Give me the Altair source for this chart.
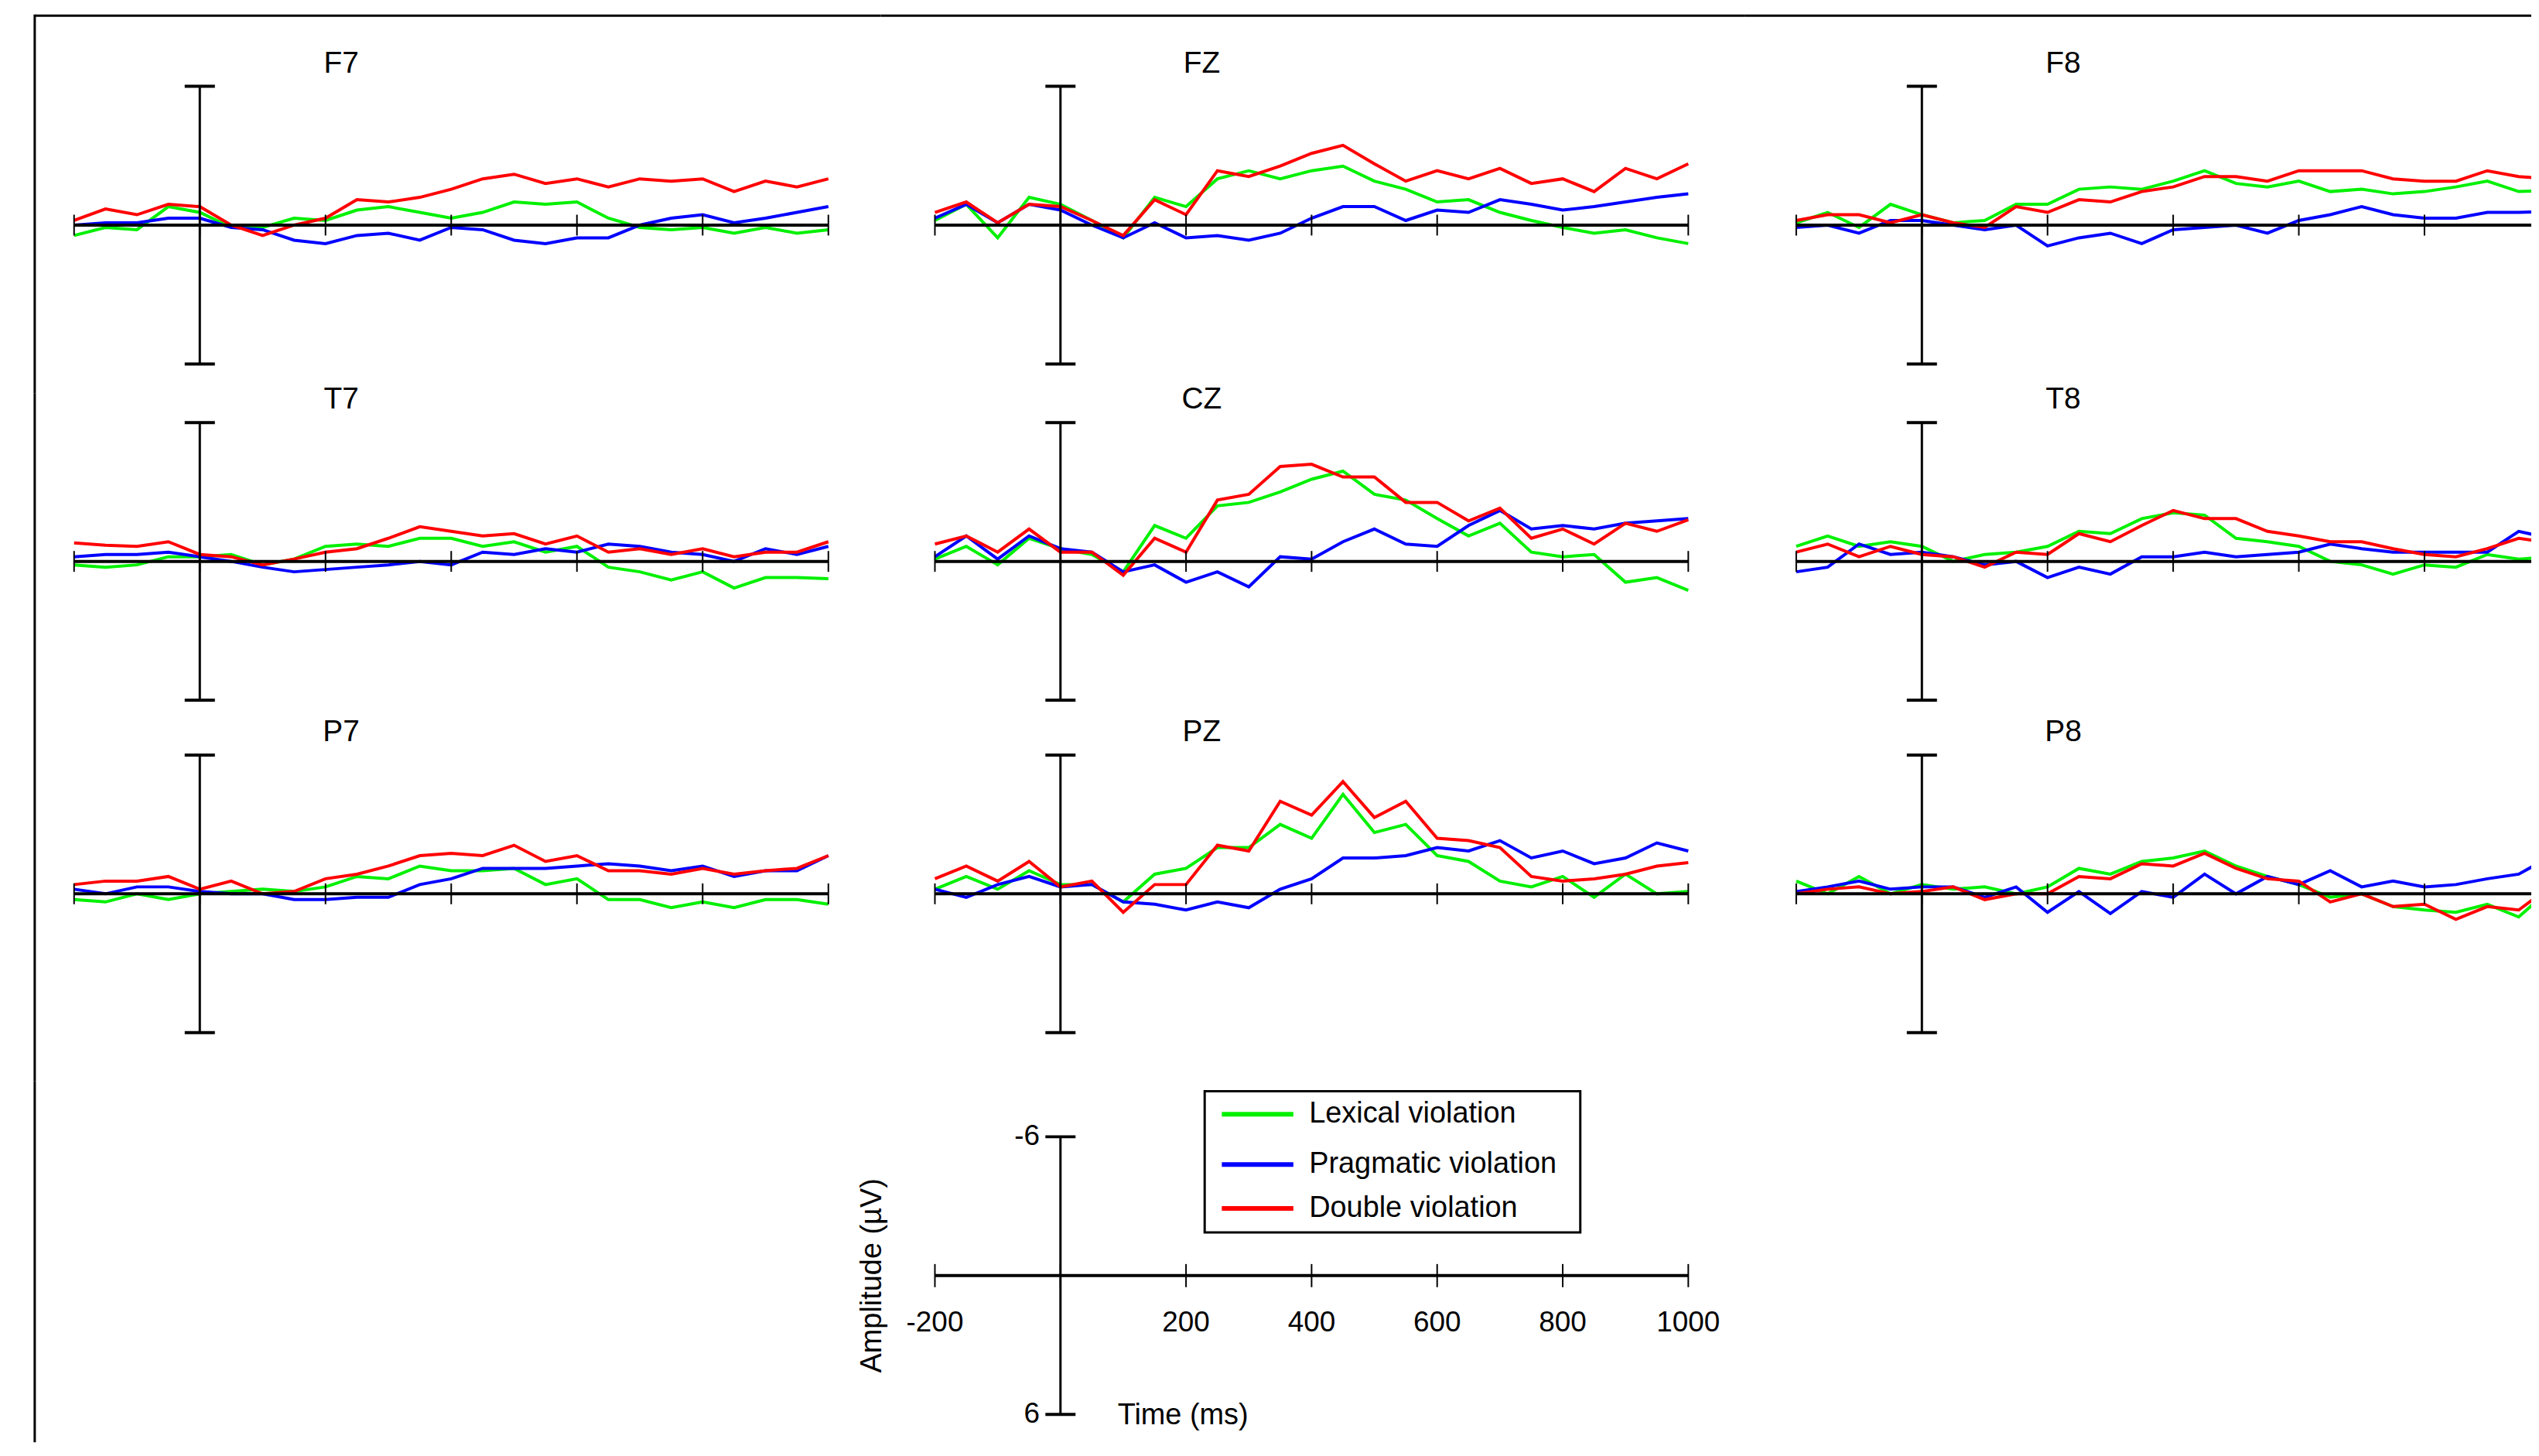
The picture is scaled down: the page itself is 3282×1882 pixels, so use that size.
import altair as alt
import pandas as pd

# time axis (ms), sampled every 50 ms
TIMES = list(range(-200, 1001, 50))
TICKS = [-200, 0, 200, 400, 600, 800, 1000]
TICK_LABELS = ["-200", "200", "400", "600", "800", "1000"]
TICK_LABEL_POS = [-200, 200, 400, 600, 800, 1000]

CONDITIONS = ["Lexical violation", "Pragmatic violation", "Double violation"]
COLORS = ["#00f000", "#0000ff", "#ff0000"]

# amplitudes in microvolts (negative plotted upwards)
F7_LEX = [0.45, 0.1, 0.2, -0.8, -0.55, 0.1, 0.1, -0.3, -0.2, -0.65, -0.8, -0.55, -0.3, -0.55, -1, -0.9, -1, -0.3, 0.1, 0.2, 0.1, 0.35, 0.1, 0.35, 0.2]
F7_PRA = [0, -0.1, -0.1, -0.3, -0.3, 0.1, 0.2, 0.65, 0.8, 0.45, 0.35, 0.65, 0.1, 0.2, 0.65, 0.8, 0.55, 0.55, 0, -0.3, -0.45, -0.1, -0.3, -0.55, -0.8]
F7_DBL = [-0.2, -0.7, -0.45, -0.9, -0.8, 0, 0.45, 0, -0.3, -1.1, -1, -1.2, -1.55, -2, -2.2, -1.8, -2, -1.65, -2, -1.9, -2, -1.45, -1.9, -1.65, -2]
FZ_LEX = [-0.2, -0.9, 0.55, -1.2, -0.9, -0.2, 0.55, -1.2, -0.8, -2, -2.35, -2, -2.35, -2.55, -1.9, -1.55, -1, -1.1, -0.55, -0.2, 0.1, 0.35, 0.2, 0.55, 0.8]
FZ_PRA = [-0.3, -0.9, -0.1, -0.9, -0.65, 0, 0.55, -0.1, 0.55, 0.45, 0.65, 0.35, -0.3, -0.8, -0.8, -0.2, -0.65, -0.55, -1.1, -0.9, -0.65, -0.8, -1, -1.2, -1.35]
FZ_DBL = [-0.55, -1, -0.1, -0.9, -0.8, -0.2, 0.45, -1.1, -0.45, -2.35, -2.1, -2.55, -3.1, -3.45, -2.65, -1.9, -2.35, -2, -2.45, -1.8, -2, -1.45, -2.45, -2, -2.65]
F8_LEX = [-0.1, -0.55, 0.1, -0.9, -0.45, -0.1, -0.2, -0.9, -0.9, -1.55, -1.65, -1.55, -1.9, -2.35, -1.8, -1.65, -1.9, -1.45, -1.55, -1.35, -1.45, -1.65, -1.9, -1.45, -1.5]
F8_PRA = [0.1, 0, 0.35, -0.2, -0.2, 0, 0.2, 0, 0.9, 0.55, 0.35, 0.8, 0.2, 0.1, 0, 0.35, -0.2, -0.45, -0.8, -0.45, -0.3, -0.3, -0.55, -0.55, -0.6]
F8_DBL = [-0.2, -0.45, -0.45, -0.1, -0.45, -0.1, 0.1, -0.8, -0.55, -1.1, -1, -1.45, -1.65, -2.1, -2.1, -1.9, -2.35, -2.35, -2.35, -2, -1.9, -1.9, -2.35, -2.1, -2.0]
T7_LEX = [0.15, 0.25, 0.15, -0.2, -0.2, -0.3, 0.15, -0.1, -0.65, -0.75, -0.65, -1, -1, -0.65, -0.85, -0.4, -0.65, 0.25, 0.45, 0.8, 0.45, 1.15, 0.7, 0.7, 0.75]
T7_PRA = [-0.2, -0.3, -0.3, -0.4, -0.2, 0, 0.25, 0.45, 0.35, 0.25, 0.15, 0, 0.15, -0.4, -0.3, -0.55, -0.4, -0.75, -0.65, -0.4, -0.3, 0, -0.55, -0.3, -0.65]
T7_DBL = [-0.8, -0.7, -0.65, -0.85, -0.3, -0.2, 0.15, -0.1, -0.4, -0.55, -1, -1.5, -1.3, -1.1, -1.2, -0.75, -1.1, -0.4, -0.55, -0.3, -0.55, -0.2, -0.4, -0.4, -0.85]
CZ_LEX = [-0.1, -0.65, 0.15, -1, -0.55, -0.3, 0.45, -1.55, -1, -2.4, -2.55, -3, -3.55, -3.9, -2.9, -2.65, -1.85, -1.1, -1.65, -0.4, -0.2, -0.3, 0.9, 0.7, 1.25]
CZ_PRA = [-0.2, -1.1, -0.1, -1.1, -0.55, -0.4, 0.45, 0.15, 0.9, 0.45, 1.1, -0.2, -0.1, -0.85, -1.4, -0.75, -0.65, -1.55, -2.2, -1.4, -1.55, -1.4, -1.65, -1.75, -1.85]
CZ_DBL = [-0.75, -1.1, -0.4, -1.4, -0.4, -0.4, 0.6, -1, -0.4, -2.65, -2.9, -4.1, -4.2, -3.65, -3.65, -2.55, -2.55, -1.75, -2.3, -1, -1.4, -0.75, -1.65, -1.3, -1.8]
T8_LEX = [-0.65, -1.1, -0.65, -0.85, -0.65, 0, -0.3, -0.4, -0.65, -1.3, -1.2, -1.85, -2.1, -2, -1, -0.85, -0.65, 0, 0.15, 0.55, 0.15, 0.25, -0.3, -0.1, -0.2]
T8_PRA = [0.45, 0.25, -0.75, -0.3, -0.4, -0.2, 0.15, 0, 0.7, 0.25, 0.55, -0.2, -0.2, -0.4, -0.2, -0.3, -0.4, -0.75, -0.55, -0.4, -0.4, -0.4, -0.4, -1.3, -1.0]
T8_DBL = [-0.4, -0.75, -0.2, -0.65, -0.3, -0.2, 0.25, -0.4, -0.3, -1.2, -0.85, -1.55, -2.2, -1.85, -1.85, -1.3, -1.1, -0.85, -0.85, -0.55, -0.3, -0.2, -0.55, -1, -0.8]
P7_LEX = [0.25, 0.35, 0, 0.25, 0, -0.1, -0.2, -0.1, -0.3, -0.75, -0.65, -1.2, -1, -1, -1.1, -0.4, -0.65, 0.25, 0.25, 0.6, 0.35, 0.6, 0.25, 0.25, 0.45]
P7_PRA = [-0.2, 0, -0.3, -0.3, -0.1, 0, 0, 0.25, 0.25, 0.15, 0.15, -0.4, -0.65, -1.1, -1.1, -1.1, -1.2, -1.3, -1.2, -1, -1.2, -0.75, -1, -1, -1.65]
P7_DBL = [-0.4, -0.55, -0.55, -0.75, -0.2, -0.55, 0, -0.1, -0.65, -0.85, -1.2, -1.65, -1.75, -1.65, -2.1, -1.4, -1.65, -1, -1, -0.85, -1.1, -0.85, -1, -1.1, -1.65]
PZ_LEX = [-0.2, -0.75, -0.2, -1, -0.4, -0.4, 0.35, -0.85, -1.1, -2, -2, -3, -2.4, -4.3, -2.65, -3, -1.65, -1.4, -0.55, -0.3, -0.75, 0.15, -0.85, 0, -0.1]
PZ_PRA = [-0.2, 0.15, -0.4, -0.75, -0.3, -0.4, 0.35, 0.45, 0.7, 0.35, 0.6, -0.2, -0.65, -1.55, -1.55, -1.65, -2, -1.85, -2.3, -1.55, -1.85, -1.3, -1.55, -2.2, -1.85]
PZ_DBL = [-0.65, -1.2, -0.55, -1.4, -0.3, -0.55, 0.8, -0.4, -0.4, -2.1, -1.85, -4, -3.4, -4.85, -3.3, -4, -2.4, -2.3, -2, -0.75, -0.55, -0.65, -0.85, -1.2, -1.35]
P8_LEX = [-0.55, 0, -0.75, 0, -0.4, -0.2, -0.3, 0, -0.3, -1.1, -0.85, -1.4, -1.55, -1.85, -1.2, -0.75, -0.4, 0.15, 0, 0.55, 0.7, 0.8, 0.45, 1, -0.2]
P8_PRA = [-0.1, -0.3, -0.55, -0.2, -0.3, -0.3, 0.15, -0.3, 0.8, -0.1, 0.85, -0.1, 0.15, -0.85, 0, -0.75, -0.4, -1, -0.3, -0.55, -0.3, -0.4, -0.65, -0.85, -1.6]
P8_DBL = [0, -0.2, -0.3, 0, -0.1, -0.3, 0.25, 0, 0, -0.75, -0.65, -1.3, -1.2, -1.75, -1.1, -0.65, -0.55, 0.35, 0, 0.55, 0.45, 1.1, 0.55, 0.7, -0.3]

CHANNELS = {
    "F7": (F7_LEX, F7_PRA, F7_DBL), "FZ": (FZ_LEX, FZ_PRA, FZ_DBL), "F8": (F8_LEX, F8_PRA, F8_DBL),
    "T7": (T7_LEX, T7_PRA, T7_DBL), "CZ": (CZ_LEX, CZ_PRA, CZ_DBL), "T8": (T8_LEX, T8_PRA, T8_DBL),
    "P7": (P7_LEX, P7_PRA, P7_DBL), "PZ": (PZ_LEX, PZ_PRA, PZ_DBL), "P8": (P8_LEX, P8_PRA, P8_DBL),
}
GRID = [["F7", "FZ", "F8"], ["T7", "CZ", "T8"], ["P7", "PZ", "P8"]]

# layout: x domain and width per column, y domain per row (30 px per microvolt)
COL_X = [(-262.6, 1083.4, 1097), (-286.2, 1089.7, 1120), (-282.2, 970.0, 1020)]
ROW_Y = [(-9.1, 7.267), (-7.267, 7.2), (-7.167, 8.1)]
KEY_Y = (-8.4, 7.2)
PX_PER_UV = 30
FONT = "Liberation Sans Narrow, Liberation Sans, Arial"
ONE = pd.DataFrame({"a": [0]})


def rule(xs, ys, x, y, x2=None, y2=None, width=3, clip=False, opacity=1):
    enc = {"x": alt.datum(x, scale=xs, axis=None), "y": alt.datum(y, scale=ys, axis=None)}
    if x2 is not None:
        enc["x2"] = alt.datum(x2)
    if y2 is not None:
        enc["y2"] = alt.datum(y2)
    return alt.Chart(ONE).mark_rule(
        strokeWidth=width, color="black", clip=clip, opacity=opacity).encode(**enc)


def text(xs, ys, x, y, s, size=38, align="center", font=FONT, angle=0):
    return alt.Chart(pd.DataFrame({"s": [s]})).mark_text(
        fontSize=size, font=font, align=align, baseline="middle", angle=angle).encode(
        x=alt.datum(x, scale=xs, axis=None), y=alt.datum(y, scale=ys, axis=None), text="s:N")


def axes(xs, ys, tick_half, clip=False):
    layers = [rule(xs, ys, -200, 0, x2=1000, width=4, clip=clip)]
    for t in TICKS:
        layers.append(rule(xs, ys, t, -tick_half, y2=tick_half, width=2, clip=clip))
    layers.append(rule(xs, ys, 0, -6, y2=6, width=3))
    layers.append(rule(xs, ys, -24, -6, x2=24, width=4))
    layers.append(rule(xs, ys, -24, 6, x2=24, width=4))
    return layers


def scales(col, ydom):
    x0, x1, w = COL_X[col]
    xs = alt.Scale(domain=[x0, x1], nice=False, zero=False)
    ys = alt.Scale(domain=list(ydom), nice=False, zero=False, reverse=True)
    return xs, ys, w, round((ydom[1] - ydom[0]) * PX_PER_UV)


def panel(ch, col, row):
    xs, ys, w, h = scales(col, ROW_Y[row])
    x0, x1 = COL_X[col][:2]
    y0, y1 = ROW_Y[row]
    clip = col == 2

    layers = []
    for vals, color in zip(CHANNELS[ch], COLORS):
        df = pd.DataFrame({"t": TIMES, "v": vals})
        layers.append(
            alt.Chart(df).mark_line(strokeWidth=4, color=color, clip=clip).encode(
                x=alt.X("t:Q", scale=xs, axis=None),
                y=alt.Y("v:Q", scale=ys, axis=None),
            )
        )
    layers += axes(xs, ys, 0.45, clip)
    layers.append(text(xs, ys, 225, -7.0, ch, size=39))
    if col == 0:
        layers.append(rule(xs, ys, x0, y0, y2=y1, width=3))
    if row == 0:
        layers.append(rule(xs, ys, x0, y0 + 0.05, x2=x1, width=3))
    return alt.layer(*layers).properties(width=w, height=h)


def key_left():
    xs, ys, w, h = scales(0, KEY_Y)
    return alt.layer(
        rule(xs, ys, COL_X[0][0], KEY_Y[0], y2=KEY_Y[1], width=3),
        text(xs, ys, 1071, 0, "Amplitude (µV)", size=38, font="Liberation Sans, Arial", angle=270),
    ).properties(width=w, height=h)


def key_mid():
    xs, ys, w, h = scales(1, KEY_Y)
    layers = axes(xs, ys, 0.5)
    tick_df = pd.DataFrame({"t": TICK_LABEL_POS, "s": TICK_LABELS, "y": [2.05] * len(TICK_LABELS)})
    layers.append(alt.Chart(tick_df).mark_text(fontSize=37, font=FONT, baseline="middle").encode(
        x=alt.X("t:Q", scale=xs, axis=None), y=alt.Y("y:Q", scale=ys, axis=None), text="s:N"))
    layers.append(text(xs, ys, -33, -6, "-6", size=37, align="right"))
    layers.append(text(xs, ys, -33, 6, "6", size=37, align="right"))
    layers.append(text(xs, ys, 91, 6.05, "Time (ms)", size=38, align="left"))

    # legend box
    layers.append(alt.Chart(ONE).mark_rect(fill="white", stroke="black", strokeWidth=3).encode(
        x=alt.datum(229.7, scale=xs, axis=None), x2=alt.datum(828),
        y=alt.datum(-7.97, scale=ys, axis=None), y2=alt.datum(-1.87)))
    leg_df = pd.DataFrame({"cond": CONDITIONS, "y": [-6.97, -4.8, -2.9]})
    cscale = alt.Scale(domain=CONDITIONS, range=COLORS)
    layers.append(alt.Chart(leg_df).mark_rule(strokeWidth=6).encode(
        x=alt.datum(257, scale=xs, axis=None), x2=alt.datum(371),
        y=alt.Y("y:Q", scale=ys, axis=None),
        color=alt.Color("cond:N", scale=cscale, legend=None)))
    layers.append(alt.Chart(leg_df).mark_text(fontSize=38, font=FONT, align="left", baseline="middle").encode(
        x=alt.datum(396, scale=xs, axis=None), y=alt.Y("y:Q", scale=ys, axis=None), text="cond:N"))
    return alt.layer(*layers).properties(width=w, height=h)


def key_right():
    xs, ys, w, h = scales(2, KEY_Y)
    return alt.layer(rule(xs, ys, 0, 0, opacity=0)).properties(width=w, height=h)


cells = [panel(ch, c, r) for r in range(3) for c, ch in enumerate(GRID[r])]
cells += [key_left(), key_mid(), key_right()]
chart = alt.concat(*cells, columns=3, spacing=0, bounds="flush", align="each").resolve_scale(
    x="independent", y="independent"
).properties(
    padding={"left": 35, "top": 6, "right": 0, "bottom": 0}
).configure_view(stroke=None)

chart.save("out.html", embed_options={"renderer": "svg", "actions": False})
